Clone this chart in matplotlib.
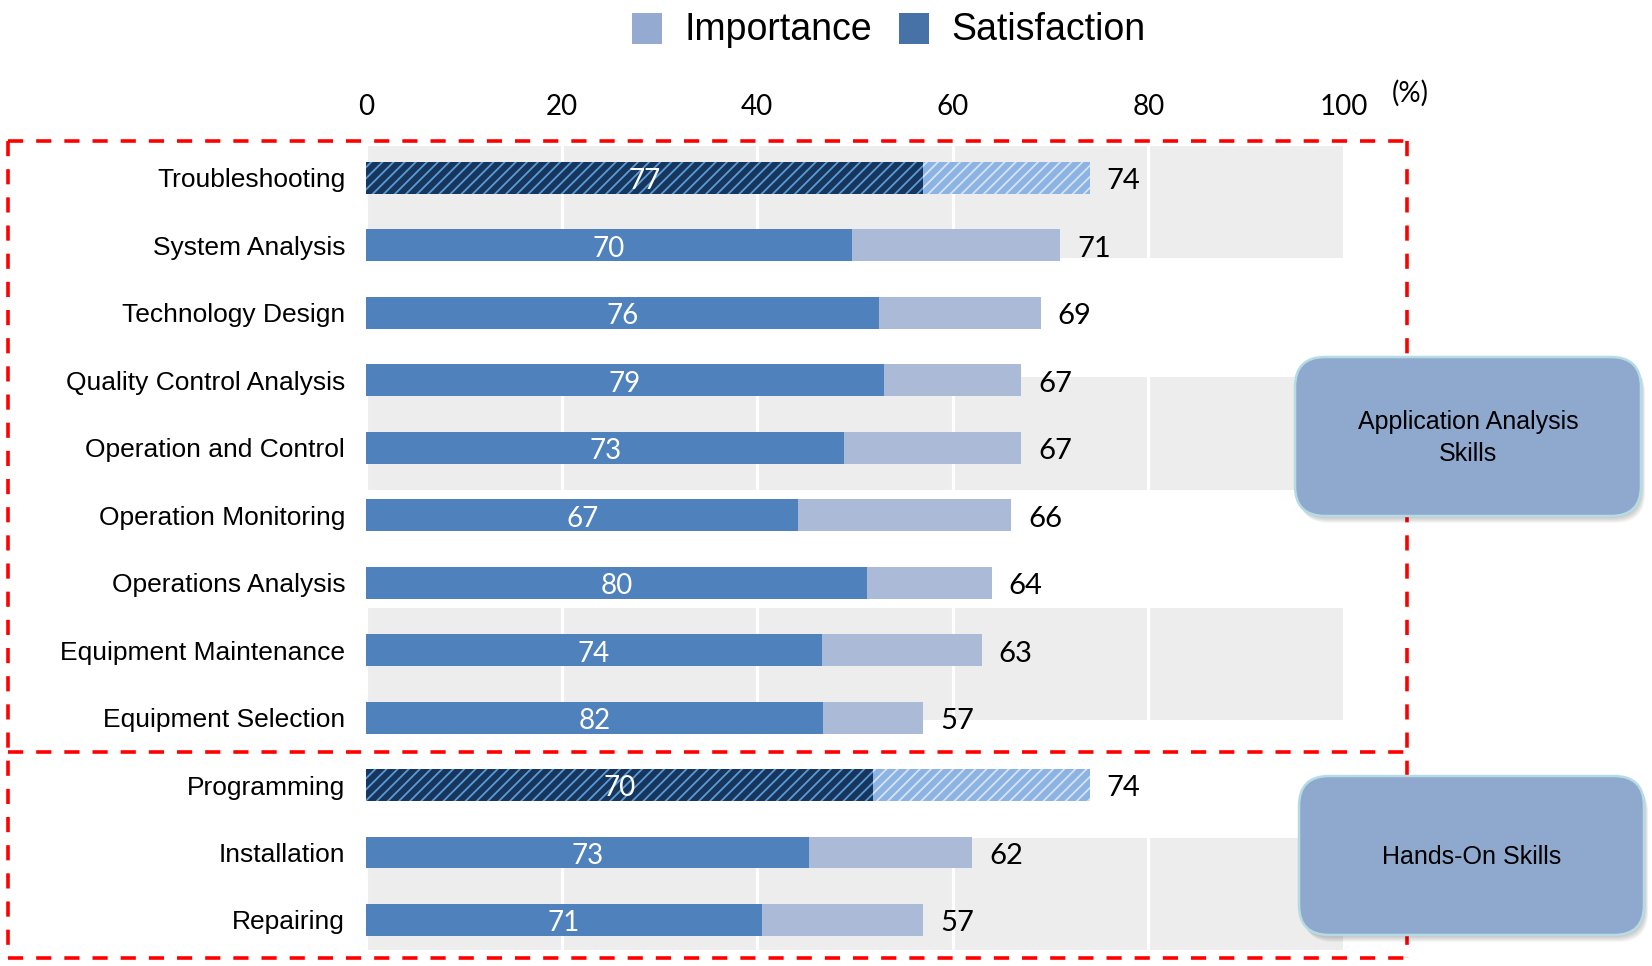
import numpy as np
import matplotlib
matplotlib.use("Agg")
import matplotlib.pyplot as plt
from matplotlib.patches import FancyBboxPatch, Rectangle

# Survey results: importance of each skill and satisfaction with it (%)
skills = ["Troubleshooting", "System Analysis", "Technology Design",
          "Quality Control Analysis", "Operation and Control",
          "Operation Monitoring", "Operations Analysis",
          "Equipment Maintenance", "Equipment Selection",
          "Programming", "Installation", "Repairing"]
importance = [74, 71, 69, 67, 67, 66, 64, 63, 57, 74, 62, 57]
satisfaction = [77, 70, 76, 79, 73, 67, 80, 74, 82, 70, 73, 71]
highlighted = ["Troubleshooting", "Programming"]
x_ticks = [0, 20, 40, 60, 80, 100]

plt.rcParams["hatch.linewidth"] = 1.3

W, H = 1652, 966
fig = plt.figure(figsize=(W / 100, H / 100), dpi=100)

# main bar axes, placed in pixel terms
row_px = 67.45
top_row_px = 178
ax_left, ax_right = 366, 1344
ax_top = top_row_px - 0.6 * row_px
ax_bot = top_row_px + 11.6 * row_px
ax = fig.add_axes([ax_left / W, (H - ax_bot) / H,
                   (ax_right - ax_left) / W, (ax_bot - ax_top) / H])

y = np.arange(len(skills))
imp = np.array(importance, dtype=float)
sat_len = imp * np.array(satisfaction) / 100.0  # satisfied share of importance

# grey background stripes
for y0, y1 in [(-0.474, 1.186), (2.95, 4.626), (6.375, 8.036), (9.785, 11.446)]:
    ax.axhspan(y0, y1, color="#EDEDED", lw=0, zorder=0.2)

bar_h = 0.474
num_dy = 0.05  # digits sit a touch low in their text box
for i, name in enumerate(skills):
    if name in highlighted:
        ax.barh(i, imp[i], height=bar_h, color="#8DB3E2", edgecolor="#D4E3F5",
                hatch="///", lw=0, zorder=2)
        ax.barh(i, sat_len[i], height=bar_h, color="#17365D", edgecolor="#5B9BD5",
                hatch="///", lw=0, zorder=3)
    else:
        ax.barh(i, imp[i], height=bar_h, color="#AABAD7", lw=0, zorder=2)
        ax.barh(i, sat_len[i], height=bar_h, color="#4F81BD", lw=0, zorder=3)
    ax.text(imp[i] + 1.7, i + num_dy, f"{importance[i]}", ha="left", va="center",
            fontsize=21, family="Lato", color="black", zorder=4)
    ax.text(sat_len[i] / 2, i + num_dy, f"{satisfaction[i]}", ha="center", va="center",
            fontsize=20, family="Lato", color="white", zorder=4)

ax.set_xlim(0, 100)
ax.set_ylim(11.6, -0.6)
ax.set_xticks(x_ticks)
ax.set_xticklabels([str(t) for t in x_ticks], family="Lato", fontsize=20)
ax.xaxis.tick_top()
ax.tick_params(axis="x", length=0, pad=12.5)
ax.set_yticks(y)
ax.set_yticklabels(skills, family="Liberation Sans", fontsize=19)
ax.tick_params(axis="y", length=0, pad=15)
for s in ax.spines.values():
    s.set_visible(False)
ax.set_facecolor("none")
ax.set_axisbelow(True)
ax.grid(axis="x", color="white", lw=2.3)
ax.grid(axis="y", visible=False)

# overlay in pixel coordinates for the legend, frames and group boxes
ov = fig.add_axes([0, 0, 1, 1], zorder=10)
ov.set_xlim(0, W)
ov.set_ylim(H, 0)
ov.axis("off")
ov.patch.set_alpha(0)

# legend
ov.add_patch(Rectangle((632, 13), 30, 31, color="#95AAD1", lw=0))
ov.text(685, 40, "Importance", fontsize=27, family="Liberation Sans", va="baseline")
ov.add_patch(Rectangle((899, 13), 30, 31, color="#4672A8", lw=0))
ov.text(951, 40, "Satisfaction", fontsize=27, family="Liberation Sans", va="baseline")
ov.text(1410, 93, "(%)", fontsize=20, family="Lato", ha="center", va="center")

# red dashed group frames
dash = dict(color="#FF0000", lw=2.6, dashes=(4.2, 3.6), solid_capstyle="butt",
            dash_capstyle="butt", zorder=1)
ov.plot([8, 1407], [141, 141], **dash)
ov.plot([8, 1407], [752, 752], **dash)
ov.plot([8, 1407], [958, 958], **dash)
ov.plot([8, 8], [141, 958], **dash)
ov.plot([1407, 1407], [141, 958], **dash)

# rounded group labels with a soft shadow
groups = [((1295, 357, 346, 159), ["Application Analysis", "Skills"]),
          ((1299, 776, 345, 159), ["Hands-On Skills"])]
for (bx, by, bw, bh), lines in groups:
    for k in range(6):
        off = 2 + k
        ov.add_patch(FancyBboxPatch((bx + off * 0.6, by + off), bw, bh,
                                    boxstyle="round,pad=0,rounding_size=30",
                                    fc="black", ec="none", alpha=0.035, zorder=2))
    ov.add_patch(FancyBboxPatch((bx, by), bw, bh,
                                boxstyle="round,pad=0,rounding_size=30",
                                fc="#8FA8CE", ec="#B5DCE4", lw=1.8, zorder=3))
    cx, cy = bx + bw / 2, by + bh / 2 + 1.5
    n = len(lines)
    for j, t in enumerate(lines):
        ov.text(cx, cy + (j - (n - 1) / 2) * 31.5, t, ha="center", va="center",
                fontsize=18, family="Liberation Sans", color="black", zorder=4)

fig.savefig("out.png", dpi=100)
